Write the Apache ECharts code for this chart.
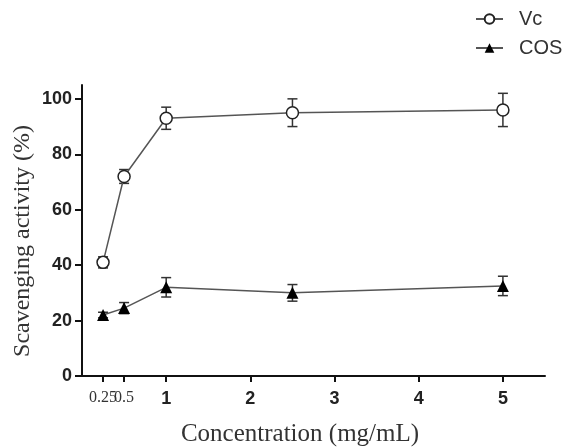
<!DOCTYPE html>
<html><head><meta charset="utf-8">
<script src="https://cdn.jsdelivr.net/npm/echarts@6/dist/echarts.min.js"></script>
<style>html,body{margin:0;padding:0;background:#fff}#c{width:572px;height:448px}</style>
</head><body><div id="c"></div>
<script>
const concentrations = [0.25, 0.5, 1, 2.5, 5];
const vcValues = [41, 72, 93, 95, 96];
const vcErrors = [2, 2.5, 4, 5, 6];
const cosValues = [22, 24.5, 32, 30, 32.5];
const cosErrors = [1, 2, 3.5, 3, 3.5];
const xTicksMain = [0.25, 1, 2, 3, 4, 5];
const xTicksExtra = [0.5];
const yTicks = [0, 20, 40, 60, 80, 100];

const pairs = (vals) => concentrations.map((c, i) => [c, vals[i]]);
const errPairs = (vals, errs) => concentrations.map((c, i) => [c, vals[i], errs[i]]);

function errRender(params, api) {
  const x = api.value(0), y = api.value(1), e = api.value(2);
  const top = api.coord([x, y + e]);
  const bot = api.coord([x, y - e]);
  const hw = 5;
  const st = { stroke: '#333', lineWidth: 1.5 };
  return { type: 'group', children: [
    { type: 'line', shape: { x1: top[0], y1: top[1], x2: bot[0], y2: bot[1] }, style: st },
    { type: 'line', shape: { x1: top[0]-hw, y1: top[1], x2: top[0]+hw, y2: top[1] }, style: st },
    { type: 'line', shape: { x1: bot[0]-hw, y1: bot[1], x2: bot[0]+hw, y2: bot[1] }, style: st }
  ]};
}

const xLabel = {
  margin: 14, hideOverlap: false,
  formatter: (v) => (v < 1 ? '{s|' + v + '}' : '{b|' + v + '}'),
  rich: {
    s: { fontFamily: 'Liberation Serif', fontSize: 16, color: '#333' },
    b: { fontFamily: 'Liberation Sans', fontWeight: 'bold', fontSize: 18, color: '#222' }
  }
};

const chart = echarts.init(document.getElementById('c'), null, { renderer: 'canvas' });
chart.setOption({
  animation: false,
  backgroundColor: '#fff',
  grid: { left: 82, right: 27, top: 85, bottom: 72 },
  legend: {
    orient: 'vertical', left: 475, top: 9, padding: 0, itemWidth: 27, itemHeight: 12, itemGap: 9,
    textStyle: { fontFamily: 'Liberation Sans', fontSize: 20, lineHeight: 20, color: '#333', padding: [0, 0, 0, 11] },
    data: ['Vc', 'COS']
  },
  xAxis: [{
    type: 'value', min: 0, max: 5.5, position: 'bottom',
    splitLine: { show: false },
    axisLine: { lineStyle: { color: '#111', width: 2 } },
    axisTick: { customValues: xTicksMain, length: 6, lineStyle: { color: '#111', width: 2 } },
    axisLabel: Object.assign({ customValues: xTicksMain }, xLabel)
  }, {
    type: 'value', min: 0, max: 5.5, position: 'bottom', offset: 0,
    splitLine: { show: false },
    axisLine: { show: false },
    axisTick: { show: true, customValues: xTicksExtra, length: 6, lineStyle: { color: '#111', width: 2 } },
    axisLabel: Object.assign({ customValues: xTicksExtra }, xLabel)
  }],
  yAxis: {
    type: 'value', min: 0, max: 105,
    splitLine: { show: false },
    axisLine: { show: true, lineStyle: { color: '#111', width: 2 } },
    axisTick: { show: true, customValues: yTicks, length: 7, lineStyle: { color: '#111', width: 2 } },
    axisLabel: { customValues: yTicks, margin: 10, fontFamily: 'Liberation Sans', fontWeight: 'bold', fontSize: 18, color: '#222' }
  },
  graphic: [
    { type: 'text', rotation: Math.PI / 2, x: 23, y: 241,
      style: { text: 'Scavenging activity (%)', font: '24px "Liberation Serif"', fill: '#333', textAlign: 'center', textVerticalAlign: 'middle' } },
    { type: 'text', x: 300, y: 434,
      style: { text: 'Concentration (mg/mL)', font: '25px "Liberation Serif"', fill: '#333', textAlign: 'center', textVerticalAlign: 'middle' } }
  ],
  series: [
    { name: 'Vc', type: 'line', data: pairs(vcValues), symbol: 'circle', symbolSize: 12,
      itemStyle: { color: '#fff', borderColor: '#222', borderWidth: 1.5 },
      lineStyle: { color: '#555', width: 1.5 }, z: 3 },
    { name: 'COS', type: 'line', data: pairs(cosValues), symbol: 'triangle', symbolSize: 12,
      itemStyle: { color: '#000', borderColor: '#000', borderWidth: 0 },
      lineStyle: { color: '#555', width: 1.5 }, z: 3 },
    { type: 'custom', data: errPairs(vcValues, vcErrors), renderItem: errRender, z: 2, silent: true },
    { type: 'custom', data: errPairs(cosValues, cosErrors), renderItem: errRender, z: 2, silent: true }
  ]
});
</script></body></html>
